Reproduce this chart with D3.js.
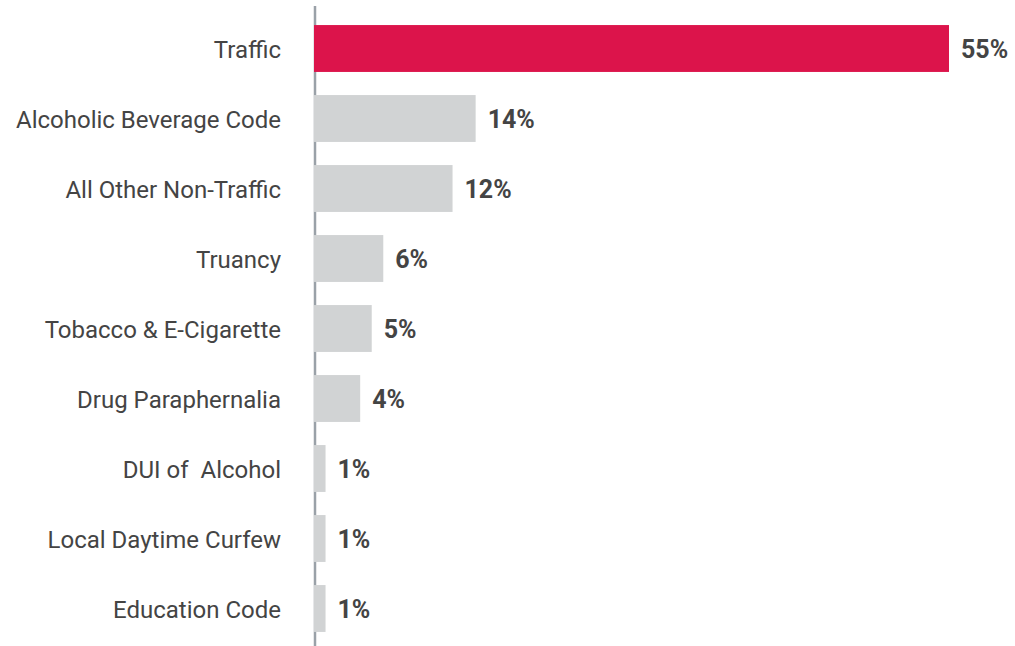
<!DOCTYPE html>
<html><head><meta charset="utf-8">
<script src="https://cdn.jsdelivr.net/npm/d3@7"></script>
<style>body{margin:0;background:#fff}svg{display:block}</style>
</head><body><svg id="c" width="1015" height="646"></svg>
<script>
const categories = ["Traffic","Alcoholic Beverage Code","All Other Non-Traffic","Truancy","Tobacco & E-Cigarette","Drug Paraphernalia","DUI of  Alcohol","Local Daytime Curfew","Education Code"];
const values = [55,14,12,6,5,4,1,1,1];
const valueLabels = ["55%","14%","12%","6%","5%","4%","1%","1%","1%"];
const highlight = ["Traffic"];

const svg = d3.select("#c");
const x0 = 314;
const x = d3.scaleLinear().domain([0,55]).range([x0,949]);
const y = d3.scaleBand().domain(categories).range([13.5,643.5]).paddingInner(0.33).paddingOuter(0.165);
const data = categories.map((c,i)=>({c,v:values[i],l:valueLabels[i]}));

svg.append("line").attr("x1",x0+1).attr("x2",x0+1).attr("y1",6).attr("y2",646)
  .attr("stroke","#9aa1a8").attr("stroke-width",2.5);

svg.selectAll("rect.bar").data(data).join("rect").attr("class","bar")
  .attr("x",x0).attr("y",d=>y(d.c)).attr("height",y.bandwidth())
  .attr("width",d=>x(d.v)-x0)
  .attr("fill",d=>highlight.includes(d.c)?"#dc144b":"#d1d3d4");

svg.selectAll("text.cat").data(data).join("text").attr("class","cat")
  .attr("x",281).attr("y",d=>y(d.c)+y.bandwidth()/2+9)
  .attr("text-anchor","end").attr("fill","#444")
  .style("font-family","Roboto, 'Open Sans', sans-serif").style("font-size","24px")
  .style("white-space","pre")
  .text(d=>d.c);

svg.selectAll("text.val").data(data).join("text").attr("class","val")
  .attr("x",d=>x(d.v)+12).attr("y",d=>y(d.c)+y.bandwidth()/2+9)
  .attr("fill","#444").style("font-weight","bold")
  .style("font-family","Roboto, 'Open Sans', sans-serif").style("font-size","25px")
  .text(d=>d.l);
</script></body></html>
